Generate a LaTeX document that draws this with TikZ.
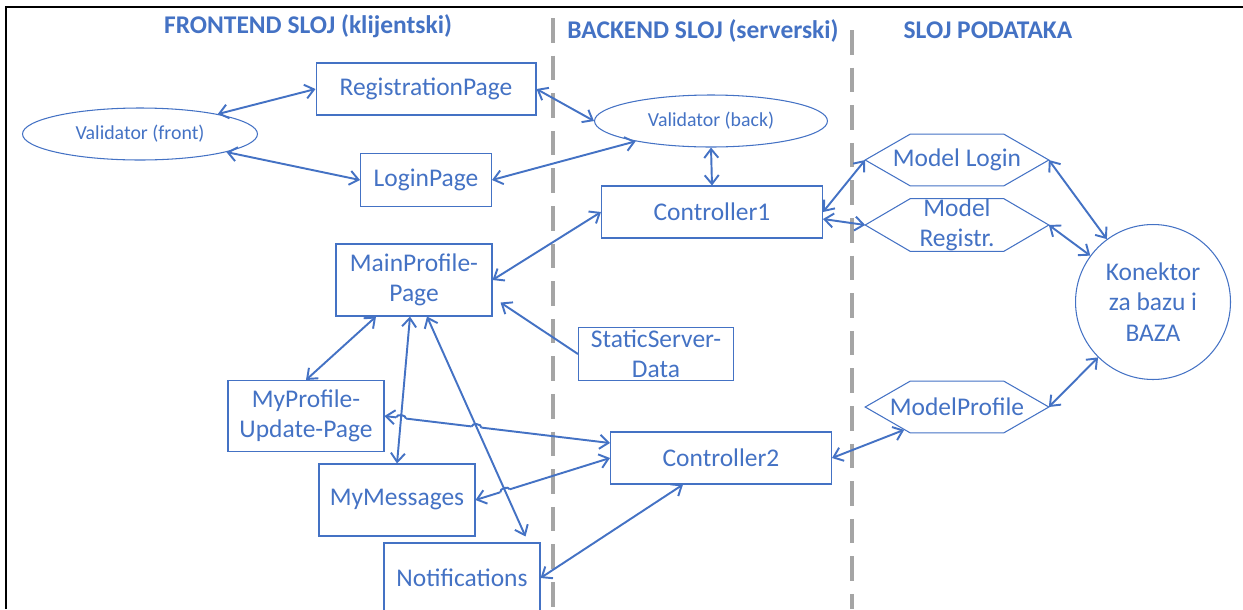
\documentclass[tikz,border=0pt]{standalone}
\usepackage{fontspec}
\setmainfont{Carlito}
\usepackage{tikz}
\usetikzlibrary{arrows.meta, shapes.geometric, calc, intersections}
\usepackage{xcolor}
\definecolor{plava}{RGB}{68,114,196}
\definecolor{sivalinija}{RGB}{165,165,165}

\begin{document}
\begin{tikzpicture}[x=0.02cm, y=-0.02cm,
    kutija/.style={rectangle, draw=plava, line width=0.6pt, text=plava,
      inner sep=0pt, align=center, font=\fontsize{14.5}{17}\selectfont},
    validator/.style={ellipse, draw=plava, line width=0.6pt, text=plava,
      inner sep=0pt, minimum height=1.04cm, font=\fontsize{11.3}{13}\selectfont},
    model/.style={rectangle, text=plava, inner sep=0pt, align=center,
      minimum width=3.66cm, minimum height=1.02cm,
      font=\fontsize{14.5}{17}\selectfont},
    naslov/.style={anchor=base, text=plava, font=\fontsize{14.5}{17}\selectfont\bfseries},
    veza/.style={{Straight Barb[length=5pt,width=8pt]}-{Straight Barb[length=5pt,width=8pt]},
      plava, line width=1.1pt},
    jednosmjerna/.style={-{Straight Barb[length=5pt,width=8pt]}, plava, line width=1.1pt}]

    \useasboundingbox (0,0) rectangle (1243,609);

    % Okvir (otvoren dolje i desno)
    \draw[black, line width=1.6pt] (6,609) -- (6,7) -- (1243,7);

    % Granice slojeva
    \draw[sivalinija, line width=1.9pt, dash pattern=on 14pt off 7.4pt] (553,18) -- (553,609);
    \draw[sivalinija, line width=1.9pt, dash pattern=on 14pt off 7.4pt] (852,30) -- (852,609);

    % Naslovi slojeva
    \node[naslov] (tfront) at (308,33) {FRONTEND SLOJ (klijentski)};
    \node[naslov] (tback) at (703,38) {BACKEND SLOJ (serverski)};
    \node[naslov] (tpod) at (988,38) {SLOJ PODATAKA};

    % Frontend sloj
    \node[validator, minimum width=4.7cm] (valfront) at (140,134) {Validator (front)};
    \node[kutija, minimum width=4.4cm, minimum height=1.04cm] (regstr) at (426,89) {RegistrationPage};
    \node[kutija, minimum width=2.62cm, minimum height=1.06cm] (login) at (426,180) {LoginPage};
    \node[kutija, minimum width=3.12cm, minimum height=1.44cm] (mainprof) at (414,280) {MainProfile-\\Page};
    \node[kutija, minimum width=3.12cm, minimum height=1.42cm] (myprof) at (306,416) {MyProfile-\\Update-Page};
    \node[kutija, minimum width=3.12cm, minimum height=1.44cm] (mymsg) at (397,500) {MyMessages};
    \node[kutija, minimum width=3.12cm, minimum height=1.40cm] (notif) at (462,578) {Notifications};

    % Backend sloj
    \node[validator, minimum width=4.66cm] (valback) at (711,121) {Validator (back)};
    \node[kutija, minimum width=4.42cm, minimum height=1.04cm] (ctrl1) at (712,212) {Controller1};
    \node[kutija, minimum width=3.1cm, minimum height=1.06cm] (staticdata) at (656,354) {StaticServer-\\Data};
    \node[kutija, minimum width=4.42cm, minimum height=1.04cm] (ctrl2) at (721,458) {Controller2};

    % Sloj podataka
    \node[model] (mlogin) at (957,160) {Model Login};
    \node[model] (mregistr) at (957,225) {Model\\Registr.};
    \node[model] (mprofile) at (957,407) {ModelProfile};
    \foreach \m in {mlogin, mregistr, mprofile} {
      \draw[plava, line width=0.6pt] (\m.west) -- ([xshift=0.9cm]\m.north west)
        -- ([xshift=-0.9cm]\m.north east) -- (\m.east)
        -- ([xshift=-0.9cm]\m.south east) -- ([xshift=0.9cm]\m.south west) -- cycle;
    }
    \node[circle, draw=plava, line width=0.6pt, text=plava, inner sep=0pt,
          minimum size=3.1cm, align=center, font=\fontsize{14.5}{17.5}\selectfont]
          (konektor) at (1153,302) {Konektor\\za bazu i\\BAZA};

    % Pomocne tacke na ivicama
    \coordinate (c2gore) at ([yshift=0.3cm]ctrl2.west);
    \coordinate (notifvrh) at ([xshift=-0.3cm,yshift=0.12cm]notif.north east);
    \coordinate (mainvrh) at ($(mainprof.south east)+(8,-14)$);

    % Veze u gornjem dijelu
    \draw[veza] (valfront) -- (regstr.west);
    \draw[veza] (valfront) -- (login.west);
    \draw[veza] (regstr.east) -- (valback.west);
    \draw[veza] (login.east) -- (valback);
    \draw[veza] (valback.south) -- (ctrl1.north);
    \draw[veza] (mainprof.east) -- (ctrl1.west);
    \draw[jednosmjerna] (staticdata.west) -- (mainvrh);
    \draw[veza] ([xshift=-0.76cm]mainprof.south) -- (myprof.north);

    % Veze prema Controller2 (sa skokovima)
    \draw[veza, name path=l1] (myprof.east) -- (c2gore);
    \draw[veza, name path=l2] (mymsg.east) -- (ctrl2.west);
    \path[name path=v1] ([xshift=-0.08cm]mainprof.south) -- (mymsg.north);
    \path[name path=v2] ([xshift=0.26cm]mainprof.south) -- (notifvrh);
    \path[name intersections={of=l1 and v1, by=s1}];
    \path[name intersections={of=l1 and v2, by=s2}];
    \path[name intersections={of=l2 and v2, by=s3}];
    \foreach \s/\p/\q in {s1/myprof.east/c2gore, s2/myprof.east/c2gore, s3/mymsg.east/ctrl2.west} {
      \draw[white, line width=2.2pt] ($(\s)!2.8pt!(\p)$) -- ($(\s)!2.8pt!(\q)$);
      \draw[plava, line width=1.1pt] ($(\s)!2.8pt!(\p)$) to[bend left=90] ($(\s)!2.8pt!(\q)$);
    }
    \draw[veza] ([xshift=-0.08cm]mainprof.south) -- (mymsg.north);
    \draw[veza] ([xshift=0.26cm]mainprof.south) -- (notifvrh);
    \draw[veza] ([xshift=-0.76cm]ctrl2.south) -- (notif.east);

    % Veze prema sloju podataka
    \draw[veza] (ctrl1.east) -- (mlogin.west);
    \draw[veza] ([yshift=-0.14cm]ctrl1.east) -- (mregistr.west);
    \draw[veza] (ctrl2.east) -- ([xshift=0.78cm,yshift=0.06cm]mprofile.south west);
    \draw[veza] (mlogin.east) -- (konektor);
    \draw[veza] (mregistr.east) -- (konektor);
    \draw[veza] (mprofile.east) -- (konektor);

\end{tikzpicture}
\end{document}
